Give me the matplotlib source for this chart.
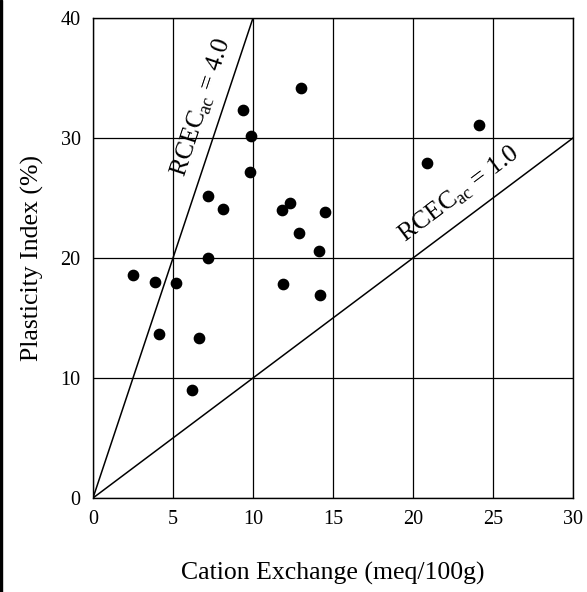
import matplotlib
matplotlib.use("Agg")
from matplotlib import pyplot as plt
from matplotlib.patches import Rectangle

plt.rcParams["font.family"] = "Liberation Serif"
plt.rcParams["mathtext.fontset"] = "custom"
plt.rcParams["mathtext.rm"] = "Liberation Serif"

# cation exchange (meq/100g) and plasticity index (%)
cec = [9.4, 9.9, 9.8, 7.2, 8.1, 11.8, 12.3, 14.5, 12.9, 14.1, 11.9, 14.2,
       7.2, 2.5, 3.9, 5.2, 4.1, 6.6, 6.2, 13.0, 24.1, 20.9]
pi = [32.3, 30.2, 27.2, 25.2, 24.1, 24.0, 24.6, 23.8, 22.1, 20.6, 17.8, 16.9,
      20.0, 18.6, 18.0, 17.9, 13.7, 13.3, 9.0, 34.2, 31.1, 27.9]

# RCEC_ac reference lines (PI = ratio * CEC)
line_x = [0, 30]
ratios = [4.0, 1.0]

fig = plt.figure(figsize=(5.87, 5.92), dpi=100)
ax = fig.add_axes([93 / 587, 1 - 498 / 592, 480 / 587, 480 / 592])

for r in ratios:
    ax.plot(line_x, [r * v for v in line_x], color="black", lw=1.1, zorder=2)

ax.scatter(cec, pi, s=55, color="black", zorder=3)

ax.set_xlim(0, 30)
ax.set_ylim(0, 40)
ax.set_xticks(range(0, 31, 5))
ax.set_yticks(range(0, 41, 10))
ax.grid(color="black", lw=0.9)
ax.tick_params(length=0, labelsize=14.5, pad=9)
for s in ax.spines.values():
    s.set_linewidth(1.0)

ax.set_xlabel("Cation Exchange (meq/100g)", fontsize=18.5, labelpad=23)
ax.set_ylabel("Plasticity Index (%)", fontsize=18.5, labelpad=12)

ax.text(6.8, 32.6, r"RCEC$_{\rm ac}$ = 4.0", fontsize=18.5,
        rotation=71.6, ha="center", va="center", rotation_mode="anchor")
ax.text(22.9, 25.3, r"RCEC$_{\rm ac}$ = 1.0", fontsize=18.5,
        rotation=36.9, ha="center", va="center", rotation_mode="anchor")

fig.patches.append(Rectangle((0, 0), 2 / 587, 1, transform=fig.transFigure,
                             color="black"))

plt.savefig("out.png", dpi=100)
